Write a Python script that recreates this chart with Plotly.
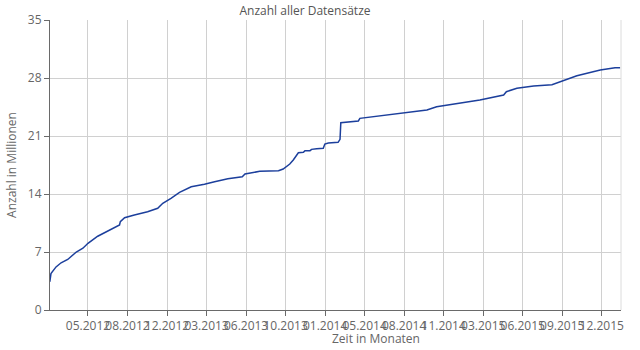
import pandas as pd
import plotly.graph_objects as go

# Cumulative record count (millions) by date
dates = [
    "2012-02-13", "2012-02-16", "2012-02-29", "2012-03-13", "2012-03-30",
    "2012-04-21", "2012-05-08", "2012-05-21", "2012-06-15", "2012-07-11",
    "2012-08-10", "2012-08-12", "2012-08-23", "2012-09-17", "2012-10-21",
    "2012-11-16", "2012-11-29", "2012-12-20", "2013-01-11", "2013-02-10",
    "2013-03-16", "2013-04-11", "2013-05-15", "2013-06-21", "2013-06-25",
    "2013-06-28", "2013-08-05", "2013-09-22", "2013-10-04", "2013-10-21",
    "2013-10-30", "2013-11-12", "2013-11-25", "2013-11-29", "2013-12-12",
    "2013-12-16", "2013-12-29", "2014-01-15", "2014-01-19", "2014-01-28",
    "2014-02-22", "2014-02-27", "2014-03-01", "2014-03-24", "2014-04-15",
    "2014-04-19", "2014-05-23", "2014-07-05", "2014-08-17", "2014-10-08",
    "2014-11-02", "2014-12-24", "2015-02-21", "2015-04-23", "2015-04-30",
    "2015-05-27", "2015-07-09", "2015-08-25", "2015-09-19", "2015-10-28",
    "2015-12-27", "2016-02-03", "2016-02-16",
]
counts = [
    3.4, 4.4, 5.2, 5.7, 6.1,
    7.0, 7.45, 8.05, 8.9, 9.57,
    10.26, 10.66, 11.14, 11.47, 11.86,
    12.27, 12.88, 13.48, 14.2, 14.88,
    15.17, 15.49, 15.85, 16.09, 16.33,
    16.41, 16.74, 16.81, 17.02, 17.62,
    18.1, 18.98, 19.03, 19.23, 19.23,
    19.39, 19.47, 19.51, 20.03, 20.15,
    20.24, 20.6, 22.6, 22.73, 22.81,
    23.13, 23.33, 23.57, 23.82, 24.14,
    24.54, 24.95, 25.34, 25.95, 26.35,
    26.76, 27.03, 27.19, 27.64, 28.28,
    28.97, 29.24, 29.24,
]

y_ticks = [0, 7, 14, 21, 28, 35]

# Evenly spaced date ticks (about every 101 days), labelled month.year
tick_start = pd.Timestamp("2012-05-21 00:00")
tick_step = pd.Timedelta(days=101.45)
x_ticks = [tick_start + k * tick_step for k in range(14)]
x_range = [pd.Timestamp("2012-02-13 12:00"), pd.Timestamp("2016-02-18 06:00")]

font_family = "Open Sans, Noto Sans, sans-serif"

fig = go.Figure()
fig.add_trace(go.Scatter(
    x=pd.to_datetime(dates), y=counts, mode="lines",
    line=dict(color="#1c3f9c", width=1.5),
    hoverinfo="x+y", showlegend=False,
))

fig.update_layout(
    width=640, height=350,
    margin=dict(l=50, r=19, t=20, b=40),
    paper_bgcolor="white", plot_bgcolor="white",
    font=dict(family=font_family, size=12, color="#666666"),
    title=dict(text="Anzahl aller Datensätze", x=305 / 640, xanchor="center",
               xref="container", y=1 - 11 / 350, yanchor="middle",
               font=dict(family=font_family, size=12, color="#555555")),
    xaxis=dict(
        type="date", range=x_range,
        tickmode="array", tickvals=x_ticks, tickformat="%m.%Y", tickangle=0,
        showgrid=True, gridcolor="#d0d0d0", gridwidth=1,
        showline=True, linecolor="#6a6a6a", linewidth=1,
        ticks="outside", ticklen=5, tickcolor="#6a6a6a",
        tickfont=dict(size=12, color="#666666"),
        zeroline=False, fixedrange=True, automargin=False,
    ),
    yaxis=dict(
        range=[0, 35], tickmode="array", tickvals=y_ticks,
        showgrid=True, gridcolor="#d0d0d0", gridwidth=1,
        showline=True, linecolor="#6a6a6a", linewidth=1,
        ticks="outside", ticklen=5, tickcolor="#6a6a6a",
        tickfont=dict(size=12, color="#666666"),
        title=dict(text="Anzahl in Millionen", standoff=8,
                   font=dict(size=12, color="#666666")),
        zeroline=False, fixedrange=True, automargin=False,
    ),
    annotations=[dict(
        text="Zeit in Monaten", xref="paper", yref="paper",
        x=(376 - 50) / 571, y=-28 / 290, xanchor="center", yanchor="middle",
        showarrow=False, font=dict(family=font_family, size=12, color="#666666"),
    )],
    shapes=[dict(type="line", xref="paper", yref="paper", x0=1, x1=1, y0=0, y1=1,
                 line=dict(color="#dcdcdc", width=1))],
)

fig.write_html("out.html")
